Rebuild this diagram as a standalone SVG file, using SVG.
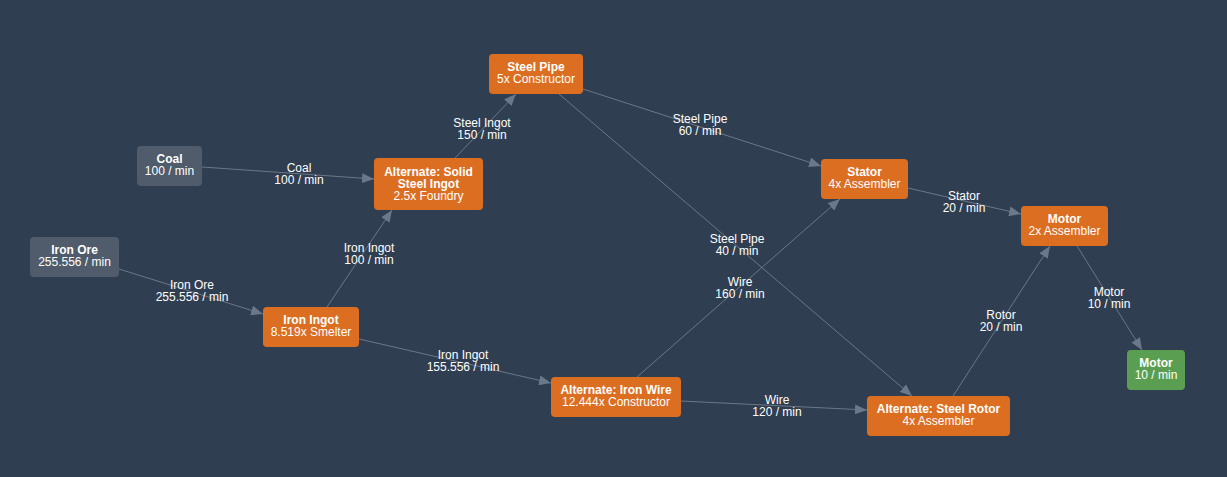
<svg xmlns="http://www.w3.org/2000/svg" width="1227" height="477" viewBox="0 0 1227 477">
<style>
.bg{fill:#2f3e50}
.n rect{stroke:none}
.rec rect{fill:#dc6e22}
.src rect{fill:#505c6b}
.out rect{fill:#5a9e52}
text{font-family:"Liberation Sans",Arial,sans-serif;font-size:12px;fill:#ffffff;text-anchor:middle}
.t{font-weight:bold}
.e line{stroke:#6b7889;stroke-width:1}
</style>
<defs>
<marker id="ah" viewBox="0 0 12 10" refX="12" refY="5" markerWidth="12" markerHeight="10" markerUnits="userSpaceOnUse" orient="auto">
<path d="M0,0 L12,5 L0,10 z" fill="#6b7889"/>
</marker>
</defs>
<rect class="bg" x="0" y="0" width="1227" height="477"/>
<g id="connectors" class="e">
<line x1="202" y1="167" x2="374" y2="179" marker-end="url(#ah)"/>
<line x1="119" y1="269" x2="263" y2="314" marker-end="url(#ah)"/>
<line x1="327" y1="307" x2="392" y2="210" marker-end="url(#ah)"/>
<line x1="455" y1="158" x2="516" y2="94" marker-end="url(#ah)"/>
<line x1="583" y1="89" x2="821" y2="166" marker-end="url(#ah)"/>
<line x1="559" y1="94" x2="912" y2="396" marker-end="url(#ah)"/>
<line x1="359" y1="339" x2="551" y2="383" marker-end="url(#ah)"/>
<line x1="637" y1="377" x2="840" y2="199" marker-end="url(#ah)"/>
<line x1="681" y1="401" x2="867" y2="410" marker-end="url(#ah)"/>
<line x1="908" y1="188" x2="1021" y2="214" marker-end="url(#ah)"/>
<line x1="953" y1="396" x2="1050" y2="246" marker-end="url(#ah)"/>
<line x1="1077" y1="246" x2="1142" y2="350" marker-end="url(#ah)"/>
<text x="299" y="172">Coal</text><text x="299" y="184">100 / min</text>
<text x="192" y="289">Iron Ore</text><text x="192" y="301">255.556 / min</text>
<text x="369" y="252">Iron Ingot</text><text x="369" y="264">100 / min</text>
<text x="482" y="127">Steel Ingot</text><text x="482" y="139">150 / min</text>
<text x="700" y="123">Steel Pipe</text><text x="700" y="135">60 / min</text>
<text x="737" y="243">Steel Pipe</text><text x="737" y="255">40 / min</text>
<text x="463" y="359">Iron Ingot</text><text x="463" y="371">155.556 / min</text>
<text x="740" y="286">Wire</text><text x="740" y="298">160 / min</text>
<text x="777" y="404">Wire</text><text x="777" y="416">120 / min</text>
<text x="964" y="200">Stator</text><text x="964" y="212">20 / min</text>
<text x="1001" y="319">Rotor</text><text x="1001" y="331">20 / min</text>
<text x="1109" y="296">Motor</text><text x="1109" y="308">10 / min</text>
</g>
<g id="coal" class="n src"><rect x="137" y="146" width="65" height="40" rx="4"/><text class="t" x="169.5" y="163">Coal</text><text x="169.5" y="175">100 / min</text></g>
<g id="iron-ore" class="n src"><rect x="30" y="237" width="89" height="40" rx="4"/><text class="t" x="74.5" y="254">Iron Ore</text><text x="74.5" y="266">255.556 / min</text></g>
<g id="solid-steel" class="n rec"><rect x="374" y="158" width="109" height="52" rx="4"/><text class="t" x="428.5" y="176">Alternate: Solid</text><text class="t" x="428.5" y="188">Steel Ingot</text><text x="428.5" y="200">2.5x Foundry</text></g>
<g id="iron-ingot" class="n rec"><rect x="263" y="307" width="96" height="40" rx="4"/><text class="t" x="311" y="324">Iron Ingot</text><text x="311" y="336">8.519x Smelter</text></g>
<g id="steel-pipe" class="n rec"><rect x="489" y="54" width="94" height="40" rx="4"/><text class="t" x="536" y="71">Steel Pipe</text><text x="536" y="83">5x Constructor</text></g>
<g id="iron-wire" class="n rec"><rect x="551" y="377" width="130" height="40" rx="4"/><text class="t" x="616" y="394">Alternate: Iron Wire</text><text x="616" y="406">12.444x Constructor</text></g>
<g id="steel-rotor" class="n rec"><rect x="867" y="396" width="143" height="40" rx="4"/><text class="t" x="938.5" y="413">Alternate: Steel Rotor</text><text x="938.5" y="425">4x Assembler</text></g>
<g id="stator" class="n rec"><rect x="821" y="159" width="87" height="40" rx="4"/><text class="t" x="864.5" y="176">Stator</text><text x="864.5" y="188">4x Assembler</text></g>
<g id="motor" class="n rec"><rect x="1021" y="206" width="87" height="40" rx="4"/><text class="t" x="1064.5" y="223">Motor</text><text x="1064.5" y="235">2x Assembler</text></g>
<g id="motor-out" class="n out"><rect x="1127" y="350" width="58" height="40" rx="4"/><text class="t" x="1156" y="367">Motor</text><text x="1156" y="379">10 / min</text></g>
</svg>
